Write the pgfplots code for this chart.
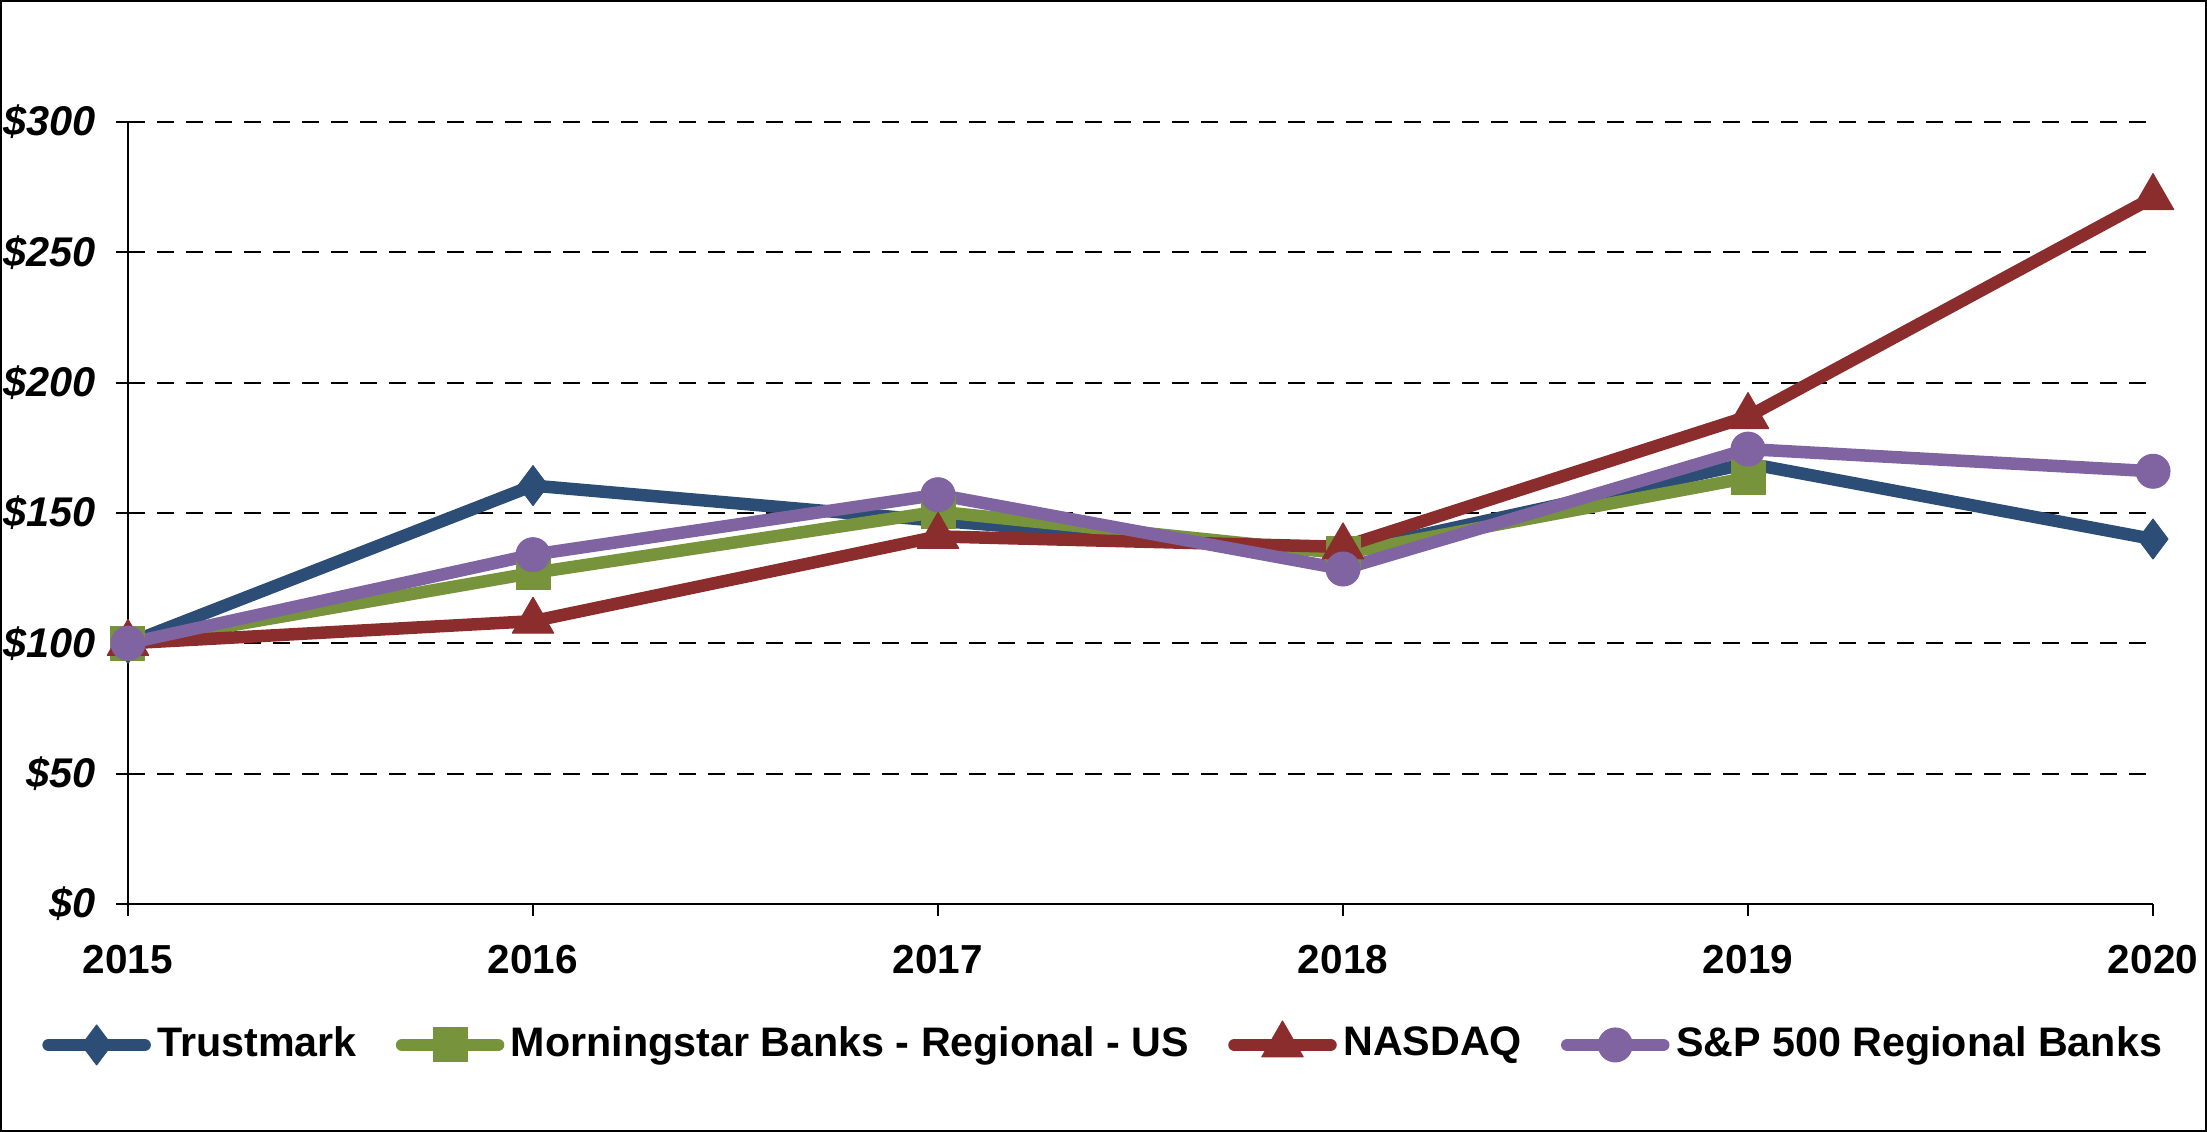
\documentclass[border=0pt]{standalone}
\usepackage{pgfplots}
\pgfplotsset{compat=1.18}
\usepackage{fontspec}
\setmainfont{Liberation Sans}

\definecolor{tmblue}{RGB}{44,77,117}
\definecolor{msgreen}{RGB}{119,147,60}
\definecolor{nqred}{RGB}{140,45,45}
\definecolor{sppurple}{RGB}{128,100,162}

\begin{document}
\begin{tikzpicture}
\path[use as bounding box] (0,0) rectangle (441.4pt,226.4pt);
\draw[line width=0.4pt] (0.2pt,0.2pt) rectangle (441.2pt,226.2pt);
\begin{axis}[
    at={(25.6pt,45.6pt)}, anchor=south west,
    scale only axis, width=405pt, height=156.4pt,
    xmin=2015, xmax=2020, ymin=0, ymax=300,
    axis x line=bottom, axis y line=left,
    axis line style={-, line width=0.4pt},
    clip=false,
    xtick={2015,2016,2017,2018,2019,2020},
    xticklabels={2015,2016,2017,2018,2019,2020},
    ytick={0,50,100,150,200,250,300},
    yticklabels={\$0,\$50,\$100,\$150,\$200,\$250,\$300},
    tick align=outside, major tick length=2.4pt,
    tick style={black, line width=0.4pt},
    ymajorgrids,
    grid style={black, line width=0.35pt, dash pattern=on 3.4pt off 2.4pt},
    y tick label style={font=\fontsize{8.3}{9}\selectfont\bfseries\itshape, xshift=-0.6pt},
    x tick label style={font=\fontsize{8.1}{9}\selectfont\bfseries, yshift=-2.4pt},
    every axis plot/.append style={line width=2.5pt, line join=round},
    legend style={at={(0.4827,-0.1803)}, anchor=center, draw=none,
        font=\fontsize{8.25}{10}\selectfont\bfseries,
        nodes={inner xsep=1.3pt},
        /tikz/every even column/.append style={column sep=6.5pt}},
    legend columns=4,
    legend image code/.code={
        \draw[mark repeat=2, mark phase=2, line cap=round, #1]
            plot coordinates {(0pt,0pt) (9.6pt,0pt) (19.2pt,0pt)};},
]
\addplot[tmblue, mark=diamond*, mark size=4pt,
    mark options={line width=0.2pt, fill=tmblue}] coordinates {
    (2015,100) (2016,160.5) (2017,147) (2018,135) (2019,169) (2020,140)
};
\addlegendentry{Trustmark}

\addplot[msgreen, mark=square*, mark size=3.4pt,
    mark options={line width=0.2pt, fill=msgreen}] coordinates {
    (2015,100) (2016,127) (2017,150.5) (2018,134.5) (2019,163.5)
};
\addlegendentry{Morningstar Banks - Regional - US}

\addplot[nqred, mark=triangle*, mark size=4.8pt,
    mark options={line width=0.2pt, fill=nqred}] coordinates {
    (2015,100) (2016,108.5) (2017,141) (2018,137) (2019,187) (2020,271)
};
\addlegendentry{NASDAQ}

\addplot[sppurple, mark=*, mark size=3.4pt,
    mark options={line width=0.2pt, fill=sppurple}] coordinates {
    (2015,100) (2016,134) (2017,157) (2018,128.5) (2019,174.5) (2020,166)
};
\addlegendentry{S\&P 500 Regional Banks}
\end{axis}
\end{tikzpicture}
\end{document}
